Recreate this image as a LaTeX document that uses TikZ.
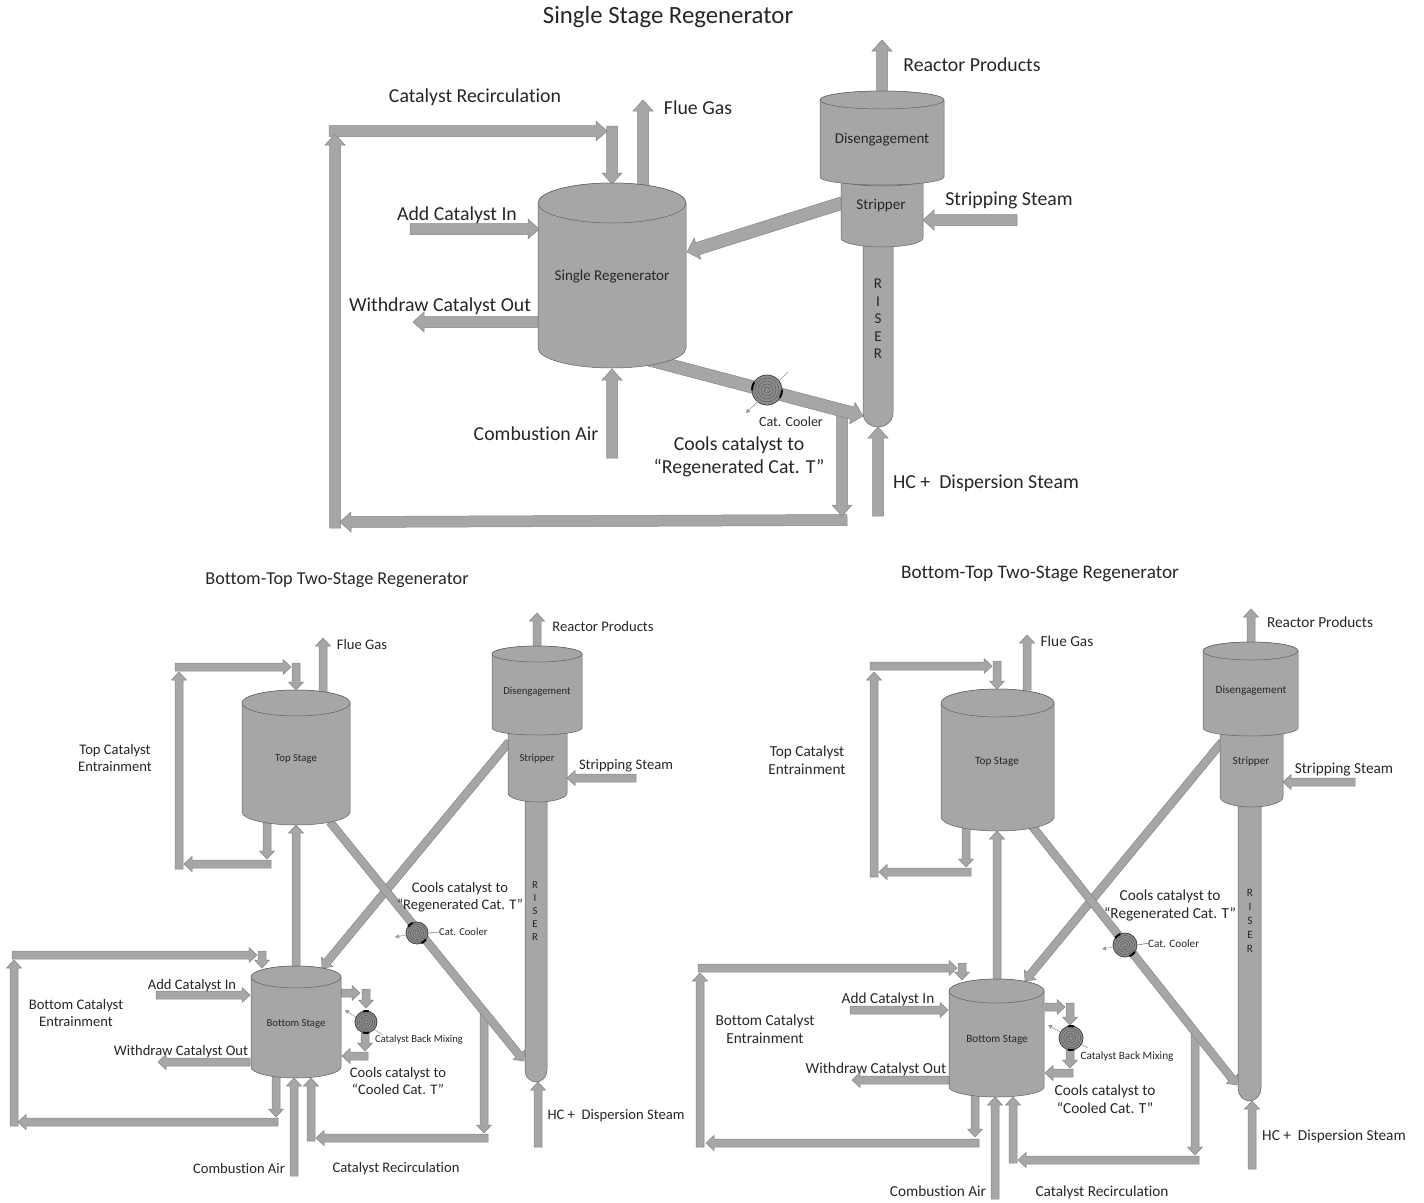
\documentclass[tikz,border=0pt]{standalone}
\usepackage{fontspec}
\setmainfont[Ligatures=NoCommon]{Carlito}
\usetikzlibrary{calc,arrows.meta}
\definecolor{vgray}{HTML}{A6A6A6}
\definecolor{edgegray}{HTML}{858585}
\definecolor{vedge}{HTML}{606060}
\definecolor{txt}{HTML}{262626}
\tikzset{
  fatarrow/.style={fill=vgray,draw=edgegray,line width=0.5pt,line join=miter},
  vessel/.style={fill=vgray,draw=vedge,line width=0.5pt},
  labA/.style={inner sep=0pt,align=center,text=txt,yshift=-2.5pt,text height=14pt,text depth=4pt,font=\fontsize{19.8}{23}\selectfont},
  labB/.style={inner sep=0pt,align=center,text=txt,yshift=-1.8pt,text height=10.3pt,text depth=3pt,font=\fontsize{14.6}{17.5}\selectfont},
  labC/.style={inner sep=0pt,align=center,text=txt,yshift=-1.2pt,text height=10.8pt,text depth=3.1pt,font=\fontsize{15.3}{18}\selectfont},
  multiA/.style={inner sep=0pt,align=center,text=txt,font=\fontsize{19.8}{23}\selectfont},
  multiB/.style={inner sep=0pt,align=center,text=txt,yshift=-0.5pt,font=\fontsize{14.6}{17.5}\selectfont},
  multiC/.style={inner sep=0pt,align=center,text=txt,yshift=-0.5pt,font=\fontsize{15.3}{18}\selectfont},
  smallA/.style={inner sep=0pt,yshift=-0.5pt,text=txt,font=\fontsize{14}{16}\selectfont},
  smallB/.style={inner sep=0pt,yshift=-1pt,text=txt,font=\fontsize{10.6}{12}\selectfont},
  smallC/.style={inner sep=0pt,yshift=-1.2pt,text=txt,font=\fontsize{11.2}{13}\selectfont},
  ringline/.style={draw=black!65,line width=0.5pt},
  coolerbody/.style={circle,inner sep=0pt,fill=black!45,draw=black!75,line width=0.8pt},
  pointer/.style={draw=black!45,line width=0.5pt,-{Triangle[width=4pt,length=4pt,fill=black!35]}},
  leader/.style={draw=black!60,line width=0.5pt},
}
% half shaft, half head, head length
\def\sw{5.5}\def\hw{10}\def\hl{11}
\newcommand\fa[3]{%
  \coordinate (#1-s) at (#2);\coordinate (#1-e) at (#3);
  \coordinate (#1-t) at ($(#1-e)!\hl pt!(#1-s)$);
  \draw[fatarrow] ($(#1-s)!\sw pt!90:(#1-e)$) -- ($(#1-t)!\sw pt!90:(#1-e)$)
    -- ($(#1-t)!\hw pt!90:(#1-e)$) -- (#1-e) -- ($(#1-t)!\hw pt!-90:(#1-e)$)
    -- ($(#1-t)!\sw pt!-90:(#1-e)$) -- ($(#1-s)!\sw pt!-90:(#1-e)$) -- cycle;
}
% name,x1,x2,captop,sidetop,sidebot,bottom,label pos,label
\newcommand\vessel[9]{%
  \pgfmathsetmacro\vR{(#3-#2)/2}\pgfmathsetmacro\vC{(#3+#2)/2}%
  \pgfmathsetmacro\vry{#5-#4}\pgfmathsetmacro\vrb{#7-#6}%
  \draw[vessel] (#2,#5) -- (#2,#6) arc[start angle=180,end angle=360,x radius=\vR pt,y radius=\vrb pt]
    -- (#3,#5) arc[start angle=0,end angle=180,x radius=\vR pt,y radius=\vry pt] -- cycle;
  \draw[vessel] (\vC,#5) ellipse[x radius=\vR pt,y radius=\vry pt];
  \node[vlabel] (#1) at (#8) {#9};
}
% name,x1,x2,top,roundstart,bottom,label pos,letters
\newcommand\riser[8]{%
  \pgfmathsetmacro\vR{(#3-#2)/2}\pgfmathsetmacro\vrb{#6-#5}%
  \draw[vessel] (#2,#4) -- (#2,#5) arc[start angle=180,end angle=360,x radius=\vR pt,y radius=\vrb pt] -- (#3,#4) -- cycle;
  \node[riserlabel] (#1) at (#7) {#8};
}
% name,x,y,r,tab angle
\newcommand\cooler[5]{%
  \node[coolerbody,minimum size=#4*2 pt] (#1) at (#2,#3) {};
  \foreach \f in {0.8,0.6,0.4,0.2}{\draw[ringline] (#1.center) circle[radius=\f*#4 pt];}
  \draw[black,line width=2pt] ($(#1.center)+(#5-16:#4 pt)$) arc[start angle=#5-16,end angle=#5+16,radius=#4 pt];
  \draw[black,line width=2pt] ($(#1.center)+(#5+164:#4 pt)$) arc[start angle=#5+164,end angle=#5+196,radius=#4 pt];
}
\begin{document}
\begin{tikzpicture}[x=1pt,y=-1pt]
\useasboundingbox (0,0) rectangle (1424,1202);
% ================ TOP ================
\tikzset{vlabel/.style={inner sep=0pt,yshift=-2pt,text=txt,font=\fontsize{15}{17}\selectfont},
  riserlabel/.style={inner sep=0pt,align=center,text=txt,font=\fontsize{15}{17.5}\selectfont}}
\node[inner sep=0pt,text=txt,font=\fontsize{24.8}{28}\selectfont] (Atitle) at (668,17) {Single Stage Regenerator};
\fa{Aprod}{882,92}{882,40}
\fa{Asteam}{1017,220}{923,220}
\fa{Aflue}{643,186}{643,100}
\fa{Arecd}{612,126}{612,184}
\fa{Areca}{329,131}{607,131}
\fa{Arecb}{335,528}{335,134}
\fa{Aret}{847,520}{340,522}
\fa{Adown}{842,415}{842,516}
\fa{Aadd}{410,229}{539,229}
\fa{Awd}{539,322}{413,322}
\fa{Aair}{612,458}{612,369}
\fa{Ahc}{878,516}{878,427}
\begingroup\def\sw{6.3}\def\hw{11}
\fa{Astrip}{842,203}{687,252}
\fa{Acool}{640,357.3}{863,416}
\endgroup
\riser{Ariser}{863}{893}{240}{413}{427}{878,319}{R\\I\\S\\E\\R}
\vessel{Astr}{841}{923}{174}{180}{238}{247}{881,204}{Stripper}
\vessel{Adis}{820}{944}{91}{100}{177}{185}{882,138}{Disengagement}
\vessel{Areg}{538}{686}{183}{203}{348}{368}{612,275}{Single Regenerator}
\cooler{Acl}{767}{390}{15}{-15}
\coordinate (Apa) at (788,372);\coordinate (Apb) at (746,413);
\draw[pointer] (Apa) -- (Apb);
\node[smallA] (Acll) at (791,421) {Cat. Cooler};
\node[labA] (Al1) at (475,95) {Catalyst Recirculation};
\node[labA] (Al2) at (698,107) {Flue Gas};
\node[labA] (Al3) at (972,64) {Reactor Products};
\node[labA] (Al4) at (1009,198) {Stripping Steam};
\node[labA] (Al5) at (457,213) {Add Catalyst In};
\node[labA] (Al6) at (440,304) {Withdraw Catalyst Out};
\node[labA] (Al7) at (536,433) {Combustion Air};
\node[multiA] (Al8) at (739,457) {Cools catalyst to\\“Regenerated Cat. T”};
\node[labA] (Al9) at (986,481) {HC +\ \ Dispersion Steam};
% ================ LOWER LEFT ================
\def\sw{4}\def\hw{7.5}\def\hl{8}
\tikzset{vlabel/.style={inner sep=0pt,yshift=-2pt,text=txt,font=\fontsize{10.7}{12}\selectfont},
  riserlabel/.style={inner sep=0pt,align=center,text=txt,font=\fontsize{10.7}{13}\selectfont}}
\node[inner sep=0pt,text=txt,font=\fontsize{18.2}{20}\selectfont] (Btitle) at (337,580) {Bottom-Top Two-Stage Regenerator};
\fa{Bprod}{537,647}{537,613}
\fa{Bsteam}{636,778}{567,778}
\fa{Bhc}{538,1147}{538,1082}
\fa{Bflue}{323,692}{323,638}
\fa{Btopd}{296,663}{296,690}
\fa{Btopa}{175,667}{291,667}
\fa{Btopb}{179,869}{179,672}
\fa{Btopr}{271,864}{184,864}
\fa{Btopo}{267,822}{267,859}
\fa{Blift}{296,968}{296,825}
\fa{Bbotd}{262,951}{262,968}
\fa{Bbota}{12,955}{257,955}
\fa{Bbotb}{14,1126}{14,960}
\fa{Bbotr}{278,1122}{18,1122}
\fa{Bboto}{276,1076}{276,1117}
\fa{Bair}{294,1176}{294,1078}
\fa{Brecu}{311,1141}{311,1078}
\fa{Brech}{488,1138}{316,1138}
\fa{Brecd}{484,1012}{484,1133}
\fa{Badd}{156,995}{250,995}
\fa{Bwd}{250,1062}{158,1062}
\fa{Bstrip}{509,742}{322,968}
\fa{Bdiag}{330,822}{524,1061}
\fa{Bmo}{341,993}{360,993}
\fa{Bmd}{366,989}{366,1008}
\fa{Bmu}{365,1033}{365,1051}
\fa{Bmr}{368,1056}{342,1056}
\riser{Briser}{525}{547}{798}{1070}{1082}{535,911}{R\\I\\S\\E\\R}
\vessel{Bstr}{508}{567}{725}{729}{793}{802}{537,757}{Stripper}
\vessel{Bdis}{492}{582}{646}{654}{728}{735}{537,690}{Disengagement}
\vessel{Btop}{242}{350}{690}{703}{812}{825}{296,757}{Top Stage}
\vessel{Bbot}{251}{341}{966}{977}{1067}{1078}{296,1022}{Bottom Stage}
\cooler{Bcl}{417}{933}{11}{-51}
\coordinate (Bpb) at (395,937);
\draw[pointer] (Bcl.center) -- (Bpb);
\node[smallB,anchor=west] (Bcll) at (439,931) {Cat. Cooler};
\draw[leader] (Bcl.east) -- (Bcll.west);
\coordinate (Bma) at (383,1035);\coordinate (Bmb) at (345,1010);
\draw[pointer] (Bma) -- (Bmb);
\cooler{Bcm}{366}{1022}{11}{90}
\node[smallB] (Bcml) at (419,1039) {Catalyst Back Mixing};
\node[labB] (Bl1) at (362,644) {Flue Gas};
\node[labB] (Bl2) at (603,626) {Reactor Products};
\node[labB] (Bl3) at (626,764) {Stripping Steam};
\node[labB] (Bl4) at (616,1114) {HC +\ \ Dispersion Steam};
\node[multiB] (Bl5) at (115,757.5) {Top Catalyst\\Entrainment};
\node[multiB] (Bl6) at (76,1012.5) {Bottom Catalyst\\Entrainment};
\node[labB] (Bl7) at (192,984) {Add Catalyst In};
\node[labB] (Bl8) at (181,1050) {Withdraw Catalyst Out};
\node[labB] (Bl9) at (239,1168) {Combustion Air};
\node[labB] (Bl10) at (396,1167) {Catalyst Recirculation};
\node[multiB] (Bl11) at (398,1080.5) {Cools catalyst to\\“Cooled Cat. T”};
\node[multiB] (Bl12) at (460,896.5) {Cools catalyst to\\“Regenerated Cat. T”};
% ================ LOWER RIGHT ================
\tikzset{vlabel/.style={inner sep=0pt,yshift=-2pt,text=txt,font=\fontsize{11.2}{13}\selectfont},
  riserlabel/.style={inner sep=0pt,align=center,text=txt,font=\fontsize{11.2}{14}\selectfont}}
\node[inner sep=0pt,text=txt,font=\fontsize{19.2}{22}\selectfont] (Ctitle) at (1040,574) {Bottom-Top Two-Stage Regenerator};
\fa{Cprod}{1251,643}{1251,609}
\fa{Csteam}{1355,782}{1283,782}
\fa{Chc}{1252,1169}{1252,1101}
\fa{Cflue}{1027,690}{1027,635}
\fa{Ctopd}{997,661}{997,689}
\fa{Ctopa}{870,666}{992,666}
\fa{Ctopb}{874,877}{874,672}
\fa{Ctopr}{971,872}{879,872}
\fa{Ctopo}{966,828}{966,867}
\fa{Clift}{997,981}{997,831}
\fa{Cbotd}{962,963}{962,980}
\fa{Cbota}{698,968}{957,968}
\fa{Cbotb}{700,1147}{700,973}
\fa{Cbotr}{979,1143}{706,1143}
\fa{Cboto}{975,1095}{975,1137}
\fa{Cair}{995,1199}{995,1097}
\fa{Crecu}{1013,1163}{1013,1097}
\fa{Crech}{1199,1160}{1018,1160}
\fa{Crecd}{1195,1032}{1195,1155}
\fa{Cadd}{850,1010}{948,1010}
\fa{Cwd}{949,1080}{852,1080}
\fa{Cstrip}{1222,742}{1025,981}
\fa{Cdiag}{1032,826}{1237,1085}
\fa{Cmo}{1045,1007}{1065,1007}
\fa{Cmd}{1070,1003}{1070,1025}
\fa{Cmu}{1070,1050}{1070,1068}
\fa{Cmr}{1073,1073}{1045,1073}
\riser{Criser}{1238}{1261}{800}{1088}{1101}{1250,920.5}{R\\I\\S\\E\\R}
\vessel{Cstr}{1220}{1283}{725}{730}{797}{807}{1251,760}{Stripper}
\vessel{Cdis}{1203}{1298}{642}{651}{728}{736}{1251,689}{Disengagement}
\vessel{Ctop}{941}{1054}{689}{703}{817}{831}{997,760}{Top Stage}
\vessel{Cbot}{949}{1044}{979}{991}{1087}{1097}{997,1038}{Bottom Stage}
\cooler{Ccl}{1125}{945}{12}{-51}
\coordinate (Cpb) at (1102,949);
\draw[pointer] (Ccl.center) -- (Cpb);
\node[smallC,anchor=west] (Ccll) at (1148,942) {Cat. Cooler};
\draw[leader] (Ccl.east) -- (Ccll.west);
\coordinate (Cma) at (1088,1048);\coordinate (Cmb) at (1048,1025);
\draw[pointer] (Cma) -- (Cmb);
\cooler{Ccm}{1071}{1038}{12}{90}
\node[smallC] (Ccml) at (1127,1055) {Catalyst Back Mixing};
\node[labC] (Cl1) at (1067,641) {Flue Gas};
\node[labC] (Cl2) at (1320,622) {Reactor Products};
\node[labC] (Cl3) at (1344,768) {Stripping Steam};
\node[labC] (Cl4) at (1334,1135) {HC +\ \ Dispersion Steam};
\node[multiC] (Cl5) at (807,760) {Top Catalyst\\Entrainment};
\node[multiC] (Cl6) at (765,1028.5) {Bottom Catalyst\\Entrainment};
\node[labC] (Cl7) at (888,998) {Add Catalyst In};
\node[labC] (Cl8) at (876,1068) {Withdraw Catalyst Out};
\node[labC] (Cl9) at (938,1191) {Combustion Air};
\node[labC] (Cl10) at (1102,1191) {Catalyst Recirculation};
\node[multiC] (Cl11) at (1105,1099) {Cools catalyst to\\“Cooled Cat. T”};
\node[multiC] (Cl12) at (1170,905) {Cools catalyst to\\“Regenerated Cat. T”};
\end{tikzpicture}
\end{document}
